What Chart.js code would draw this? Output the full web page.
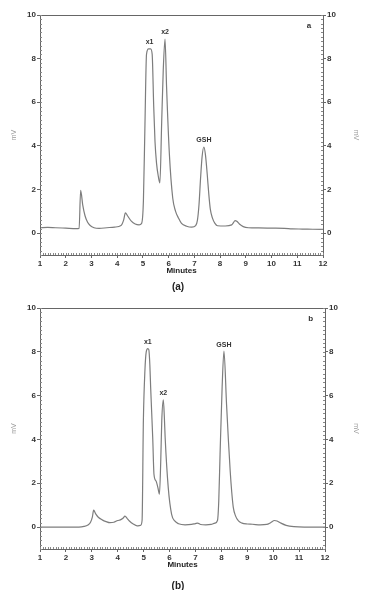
<!DOCTYPE html>
<html>
<head>
<meta charset="utf-8">
<script src="https://cdn.jsdelivr.net/npm/chart.js@4.4.1/dist/chart.umd.min.js"></script>
<style>
body{margin:0;background:#fff;width:368px;height:590px;position:relative;overflow:hidden;font-family:"Liberation Sans",Arial,sans-serif}
.box{position:absolute;left:0;width:368px}
.cap{position:absolute;left:-6px;width:368px;text-align:center;font-weight:bold;font-size:10px;line-height:12px;color:#222}
</style>
</head>
<body>
<div class="box" style="top:0;height:300px"><canvas id="chartA"></canvas></div>
<div class="box" style="top:295px;height:295px"><canvas id="chartB"></canvas></div>
<div class="cap" style="top:281px">(a)</div>
<div class="cap" style="top:580px">(b)</div>
<script>
// axis ticks
const xTickValues = [1, 2, 3, 4, 5, 6, 7, 8, 9, 10, 11, 12];
const yTickValues = [0, 2, 4, 6, 8, 10];

// chromatogram (a): retention time (min) and signal (mV)
const timesA = [1.0, 1.3, 1.6, 2.0, 2.4, 2.52, 2.58, 2.66, 2.75, 2.85, 2.95, 3.1, 3.3, 3.6, 3.9, 4.15, 4.25, 4.32, 4.4, 4.55, 4.7, 4.85, 4.95, 5.02, 5.08, 5.14, 5.22, 5.3, 5.36, 5.42, 5.47, 5.53, 5.6, 5.66, 5.73, 5.79, 5.86, 5.92, 6.03, 6.16, 6.27, 6.38, 6.5, 6.7, 6.9, 7.05, 7.12, 7.18, 7.24, 7.3, 7.37, 7.43, 7.5, 7.56, 7.62, 7.7, 7.8, 7.9, 8.2, 8.45, 8.52, 8.58, 8.65, 8.75, 8.9, 9.1, 9.5, 10.0, 10.5, 10.8, 11.2, 11.6, 12.0];
const signalA = [0.25, 0.27, 0.25, 0.23, 0.21, 0.22, 1.96, 1.3, 0.8, 0.5, 0.35, 0.25, 0.22, 0.25, 0.28, 0.35, 0.6, 0.93, 0.8, 0.55, 0.42, 0.38, 0.45, 1.5, 5.0, 8.2, 8.45, 8.45, 8.2, 5.8, 4.2, 3.2, 2.6, 2.3, 5.1, 7.45, 8.9, 6.7, 3.6, 1.6, 1.0, 0.7, 0.45, 0.32, 0.28, 0.35, 0.6, 1.3, 2.5, 3.5, 3.95, 3.6, 2.7, 1.8, 1.1, 0.7, 0.45, 0.34, 0.33, 0.38, 0.48, 0.58, 0.55, 0.42, 0.3, 0.25, 0.24, 0.23, 0.22, 0.2, 0.19, 0.18, 0.17];
const peakNamesA = ['x1', 'x2', 'GSH'];
const peakTimesA = [5.26, 5.86, 7.37];
const peakHeightsA = [8.45, 8.9, 3.95];

// chromatogram (b)
const timesB = [1.0, 1.5, 2.0, 2.5, 2.7, 2.85, 2.95, 3.02, 3.07, 3.15, 3.25, 3.4, 3.55, 3.7, 3.85, 4.0, 4.1, 4.2, 4.28, 4.36, 4.45, 4.6, 4.75, 4.88, 4.94, 4.99, 5.05, 5.1, 5.16, 5.2, 5.24, 5.27, 5.35, 5.4, 5.48, 5.55, 5.61, 5.66, 5.7, 5.76, 5.8, 5.83, 5.95, 6.08, 6.2, 6.35, 6.6, 6.85, 7.0, 7.08, 7.2, 7.4, 7.6, 7.75, 7.85, 7.9, 7.95, 8.03, 8.1, 8.2, 8.27, 8.34, 8.4, 8.46, 8.55, 8.66, 8.8, 9.0, 9.2, 9.5, 9.75, 9.9, 10.05, 10.15, 10.3, 10.5, 10.8, 11.2, 11.6, 12.0];
const signalB = [0.0, 0.0, 0.0, 0.0, 0.03, 0.1, 0.22, 0.45, 0.77, 0.6, 0.45, 0.33, 0.25, 0.2, 0.22, 0.3, 0.33, 0.4, 0.5, 0.4, 0.28, 0.14, 0.06, 0.08, 0.3, 4.86, 7.16, 8.0, 8.15, 8.1, 7.4, 6.4, 4.1, 2.4, 2.1, 1.8, 1.5, 3.0, 4.86, 5.81, 5.0, 4.1, 1.8, 0.58, 0.28, 0.15, 0.1, 0.12, 0.16, 0.18, 0.12, 0.1, 0.12, 0.18, 0.3, 1.2, 3.33, 6.4, 8.03, 5.6, 4.0, 2.57, 1.6, 0.9, 0.5, 0.28, 0.18, 0.14, 0.13, 0.1, 0.12, 0.2, 0.3, 0.28, 0.18, 0.08, 0.02, 0.0, 0.0, 0.0];
const peakNamesB = ['x1', 'x2', 'GSH'];
const peakTimesB = [5.16, 5.76, 8.1];
const peakHeightsB = [8.15, 5.81, 8.03];

Chart.defaults.font.family = '"Liberation Sans", Arial, sans-serif';

const decorations = {
  id: 'decorations',
  afterDatasetsDraw(chart, args, opts) {
    const {ctx, chartArea: a} = chart;
    const x = chart.scales.x, y = chart.scales.y;
    ctx.save();
    ctx.strokeStyle = '#666';
    ctx.lineWidth = 1;
    ctx.strokeRect(Math.round(a.left) + 0.5, Math.round(a.top) + 0.5, Math.round(a.right - a.left), Math.round(a.bottom - a.top));
    // minor ticks
    ctx.strokeStyle = '#888';
    ctx.beginPath();
    for (let i = 0; i <= 110; i++) {
      const px = Math.round(x.getPixelForValue(1 + i / 10)) + 0.5;
      ctx.moveTo(px, a.bottom);
      ctx.lineTo(px, a.bottom - 2);
    }
    for (let i = 0; i <= 55; i++) {
      const py = Math.round(y.getPixelForValue(-1 + i / 5)) + 0.5;
      ctx.moveTo(a.left, py);
      ctx.lineTo(a.left + 2, py);
      ctx.moveTo(a.right, py);
      ctx.lineTo(a.right - 2, py);
    }
    ctx.stroke();
    // peak names
    ctx.fillStyle = '#333';
    ctx.font = 'bold 7px "Liberation Sans", Arial, sans-serif';
    ctx.textAlign = 'center';
    ctx.textBaseline = 'bottom';
    opts.names.forEach((n, i) => {
      ctx.fillText(n, x.getPixelForValue(opts.times[i]), y.getPixelForValue(opts.heights[i]) - 3);
    });
    // panel letter
    ctx.font = 'bold 8px "Liberation Sans", Arial, sans-serif';
    ctx.textBaseline = 'middle';
    ctx.fillText(opts.panel, x.getPixelForValue(11.45), y.getPixelForValue(9.5));
    ctx.restore();
  }
};

function yAxis(position, width, titlePad) {
  return {
    type: 'linear',
    position: position,
    display: true,
    min: -1,
    max: 10,
    afterBuildTicks: s => { s.ticks = yTickValues.map(v => ({value: v})); },
    afterFit: s => { s.width = width; },
    grid: {drawOnChartArea: false, tickLength: 3, color: '#666'},
    border: {color: '#666'},
    ticks: {color: '#333', font: {size: 8, weight: 'bold'}, padding: 1},
    title: {display: true, text: 'mV', color: '#999', font: {size: 7}, padding: {top: titlePad, bottom: 0}}
  };
}

function buildChart(id, times, values, names, peakTimes, peakHeights, panel, geo) {
  const points = times.map((t, i) => ({x: t, y: values[i]}));
  return new Chart(document.getElementById(id), {
    type: 'line',
    data: {
      datasets: [{
        data: points,
        borderColor: '#7d7d7d',
        borderWidth: 1.2,
        pointRadius: 0,
        tension: 0.3,
        cubicInterpolationMode: 'monotone',
        fill: false
      }]
    },
    options: {
      responsive: true,
      maintainAspectRatio: false,
      animation: false,
      layout: {padding: {top: geo.top, left: 0, right: 0, bottom: 0}},
      plugins: {
        legend: {display: false},
        tooltip: {enabled: false},
        decorations: {names: names, times: peakTimes, heights: peakHeights, panel: panel}
      },
      scales: {
        x: {
          type: 'linear',
          min: 1,
          max: 12,
          afterBuildTicks: s => { s.ticks = xTickValues.map(v => ({value: v})); },
          afterFit: s => { s.height = geo.xh; },
          grid: {drawOnChartArea: false, tickLength: 3, color: '#666'},
          border: {color: '#666'},
          ticks: {color: '#333', font: {size: 8, weight: 'bold'}, padding: 1, maxRotation: 0},
          title: {display: true, text: 'Minutes', color: '#222', font: {size: 8, weight: 'bold'}, padding: {top: 0, bottom: geo.titlePad}}
        },
        y: yAxis('left', 40, 10),
        y2: yAxis('right', geo.right, 8)
      }
    },
    plugins: [decorations]
  });
}

buildChart('chartA', timesA, signalA, peakNamesA, peakTimesA, peakHeightsA, 'a', {top: 15, xh: 45, titlePad: 24, right: 45});
buildChart('chartB', timesB, signalB, peakNamesB, peakTimesB, peakHeightsB, 'b', {top: 13, xh: 41, titlePad: 20, right: 43});
</script>
</body>
</html>
